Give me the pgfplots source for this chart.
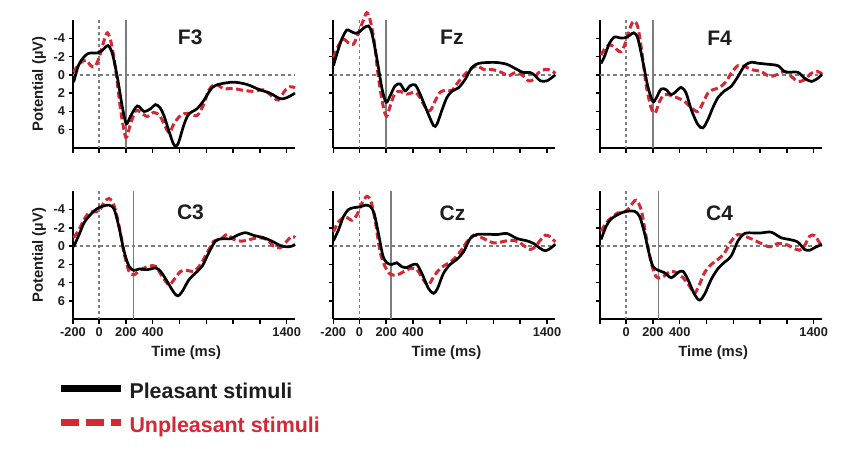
\documentclass[border=0pt]{standalone}
\usepackage{pgfplots}
\pgfplotsset{compat=1.18}
\usepackage{fontspec}
\setmainfont{Liberation Sans}
\definecolor{myred}{RGB}{214,39,52}
\definecolor{refgray}{RGB}{125,125,125}
\definecolor{txtblack}{RGB}{30,30,30}

\pgfplotsset{
  erp/.style={
    scale only axis, width=222pt, height=128pt,
    xmin=-195, xmax=1462, ymin=-6, ymax=8, y dir=reverse,
    axis x line*=bottom, axis y line*=left,
    axis line style={-, line width=2.3pt, black},
    xtick={-195,0,200,400,600,800,1000,1200,1400},
    ytick={-4,-2,0,2,4,6},
    tick align=outside, major tick length=4.5pt,
    tick style={line width=1.5pt, black},
    clip=false,
    ticklabel style={font=\fontsize{12.8}{14}\selectfont\bfseries, text=txtblack},
    /pgf/number format/assume math mode=true,
    xticklabels={}, yticklabels={},
    label style={font=\fontsize{14.8}{16}\selectfont\bfseries, text=txtblack},
    xlabel style={at={(axis description cs:0.51,-0.262)}, anchor=center},
    ylabel style={at={(axis description cs:-0.153,0.5)}, anchor=center},
  },
  leftcol/.style={yticklabels={-4,-2,0,2,4,6}, ylabel={Potential (µV)}},
  botrow/.style={xticklabels={-200,0,200,400,,,,,1400}, xlabel={Time (ms)}},
  pl/.style={black, line width=2.7pt, smooth},
  un/.style={myred, line width=3pt, smooth, dash pattern=on 7pt off 3.5pt},
  legline/.style={legend image code/.code={\draw[#1] (0pt,5pt) -- (60pt,5pt);}},
}
\newcommand{\reflines}[1]{%
  \draw[refgray, line width=1.4pt, dash pattern=on 3.5pt off 3pt] (axis cs:-195,0) -- (axis cs:1462,0);
  \draw[refgray, line width=1.4pt, dash pattern=on 3pt off 3pt] (axis cs:0,-6) -- (axis cs:0,8);
  \draw[refgray, line width=1.5pt] (axis cs:#1,-6) -- (axis cs:#1,8);}
\newcommand{\ttl}[3]{\node[font=\fontsize{21}{24}\selectfont\bfseries, text=txtblack] at (axis cs:#1,#2) {#3};}

\begin{document}
\begin{tikzpicture}[x=1pt,y=1pt]
\path (0,0) rectangle (850,459);

% ---------- F3 ----------
\begin{axis}[erp, leftcol, at={(73pt,311pt)}, anchor=south west]
\reflines{200}
\addplot[un] coordinates {(-190,-0.3)(-149,-1.2)(-99,-1.6)(-62,-1.0)(-32,-0.9)(0,-1.9)(37,-3.75)(62,-4.6)(92,-3.4)(124,-0.5)(161,3.9)(191,6.45)(206,6.8)(235,5.35)(273,3.9)(310,4.1)(359,4.55)(409,4.1)(458,4.6)(520,6.3)(558,5.35)(607,4.45)(657,4.2)(731,4.45)(781,3.2)(818,1.7)(867,1.0)(929,1.5)(1004,1.5)(1078,1.7)(1152,1.8)(1227,1.65)(1301,2.45)(1338,2.75)(1388,1.7)(1425,1.3)(1462,1.4)};
\addplot[pl] coordinates {(-190,0.8)(-149,-1.2)(-87,-2.3)(-12,-2.4)(25,-2.7)(67,-3.2)(99,-2.3)(136,0.25)(173,3.5)(203,5.35)(235,4.5)(285,3.4)(335,4.0)(385,3.7)(421,3.25)(455,3.6)(485,4.5)(520,6.1)(560,7.7)(590,7.5)(632,5.5)(669,4.3)(731,3.7)(781,2.8)(843,1.4)(904,1.0)(1004,0.8)(1103,1.05)(1202,1.65)(1276,2.0)(1350,2.6)(1400,2.5)(1462,2.0)};
\ttl{680}{-4.1}{F3}
\end{axis}

% ---------- Fz ----------
\begin{axis}[erp, at={(333.3pt,311pt)}, anchor=south west]
\reflines{200}
\addplot[un] coordinates {(-194,-1.9)(-157,-3.2)(-120,-3.9)(-82,-3.5)(-45,-3.35)(-7,-4.6)(30,-6.0)(55,-6.8)(80,-6.0)(110,-3.7)(142,0.3)(179,3.55)(204,4.5)(234,3.2)(266,2.0)(304,1.8)(354,2.1)(416,1.9)(453,2.5)(490,3.5)(528,3.9)(565,2.85)(603,1.9)(640,1.7)(690,1.7)(727,1.0)(777,0.1)(827,-0.6)(876,-1.0)(926,-0.6)(1001,-0.55)(1063,-0.25)(1113,0.1)(1163,-0.25)(1213,0)(1262,0.65)(1300,0.5)(1337,-0.25)(1387,-0.6)(1437,-0.45)(1462,-0.15)};
\addplot[pl] coordinates {(-194,-1.0)(-169,-2.25)(-132,-3.9)(-95,-4.9)(-70,-4.8)(-32,-4.55)(0,-4.7)(30,-5.1)(67,-5.35)(92,-4.6)(129,-1.9)(167,1.4)(199,3.0)(229,2.3)(266,1.2)(304,1.0)(341,1.75)(378,1.2)(416,1.1)(453,2.1)(503,3.9)(553,5.55)(578,5.4)(615,3.9)(652,2.5)(690,1.8)(740,1.4)(789,0.5)(839,-0.8)(889,-1.25)(951,-1.35)(1026,-1.35)(1101,-1.15)(1175,-0.6)(1225,-0.25)(1275,-0.25)(1312,0.1)(1350,0.65)(1400,0.65)(1462,0)};
\ttl{690}{-4.1}{Fz}
\end{axis}

% ---------- F4 ----------
\begin{axis}[erp, at={(600pt,311pt)}, anchor=south west]
\reflines{200}
\addplot[un] coordinates {(-187,-2.17)(-149,-3.08)(-112,-3.26)(-75,-2.83)(-37,-2.54)(0,-3.7)(32,-5.25)(57,-5.87)(87,-5.25)(117,-2.54)(149,1.09)(187,3.62)(217,4.17)(249,2.9)(286,2.17)(336,2.25)(386,2.54)(436,2.9)(486,3.62)(535,3.99)(573,3.08)(610,2.0)(647,1.63)(697,1.38)(747,0.72)(784,-0.18)(834,-1.0)(884,-0.9)(946,-0.54)(1008,-0.36)(1071,0.18)(1121,0)(1183,-0.36)(1233,0.18)(1282,0.72)(1332,0.54)(1382,-0.18)(1432,-0.36)(1462,-0.07)};
\addplot[pl] coordinates {(-187,-1.25)(-162,-2.0)(-125,-3.45)(-87,-4.15)(-50,-4.05)(-12,-4.05)(25,-4.3)(57,-4.6)(87,-4.0)(125,-1.45)(162,1.27)(199,2.9)(224,2.55)(261,1.55)(299,1.63)(336,2.17)(374,1.8)(411,1.37)(448,2.0)(486,3.8)(535,5.43)(573,5.8)(610,4.9)(647,3.6)(685,2.5)(735,1.74)(784,1.27)(834,0.2)(884,-1.0)(934,-1.38)(984,-1.27)(1058,-1.16)(1133,-1.0)(1183,-0.36)(1233,-0.29)(1282,-0.29)(1332,0.36)(1382,0.72)(1432,0.36)(1462,-0.07)};
\ttl{697}{-4.0}{F4}
\end{axis}

% ---------- C3 ----------
\begin{axis}[erp, leftcol, botrow, at={(73pt,139.7pt)}, anchor=south west,
  legend style={at={(axis description cs:-0.072,-0.505)}, anchor=north west,
    draw=none, fill=none, inner sep=0pt, outer sep=0pt, row sep=15pt,
    nodes={inner sep=0pt, text height=15pt, text depth=4pt},
    font=\fontsize{21.4}{22}\selectfont\bfseries,
    /tikz/every odd column/.append style={column sep=5pt}},
  legend cell align=left]
\reflines{255}
\addplot[un, forget plot] coordinates {(-190,-0.92)(-149,-1.84)(-112,-2.94)(-74,-3.68)(-37,-3.75)(0,-3.86)(37,-4.78)(74,-5.22)(112,-4.41)(149,-2.2)(186,0.74)(223,2.76)(260,3.13)(310,2.57)(372,2.2)(422,2.2)(471,3.31)(521,4.23)(558,3.68)(608,2.76)(657,2.65)(707,2.76)(756,2.02)(806,0.74)(856,-0.55)(905,-0.74)(955,-1.29)(1004,-0.74)(1066,-0.55)(1128,-0.74)(1190,-0.92)(1252,-0.74)(1302,0)(1352,0.18)(1401,-0.55)(1438,-1.1)(1462,-0.92)};
\addplot[pl, forget plot] coordinates {(-190,0.07)(-149,-1.29)(-112,-2.57)(-74,-3.3)(-37,-3.86)(0,-4.23)(37,-4.41)(74,-4.49)(112,-4.04)(149,-2.02)(186,0.55)(223,2.2)(260,2.65)(298,2.5)(360,2.57)(422,2.39)(459,2.76)(508,3.86)(558,5.07)(588,5.44)(620,4.96)(670,3.68)(719,2.94)(769,2.2)(818,0.74)(868,-0.55)(918,-0.81)(980,-0.81)(1029,-1.18)(1091,-1.47)(1153,-1.18)(1228,-0.92)(1290,-0.55)(1352,-0.07)(1401,0.07)(1438,0)(1462,-0.2)};
\ttl{682}{-3.7}{C3}
\addlegendimage{black, line width=7.5pt, legline}
\addlegendentry{\textcolor{txtblack}{Pleasant stimuli}}
\addlegendimage{myred, line width=7.5pt, dash pattern=on 18pt off 7pt, legline}
\addlegendentry{\textcolor{myred}{Unpleasant stimuli}}
\end{axis}

% ---------- Cz ----------
\begin{axis}[erp, botrow, at={(333.3pt,139.7pt)}, anchor=south west]
\reflines{235}
\addplot[un] coordinates {(-194,-1.56)(-157,-2.65)(-107,-3.2)(-57,-2.84)(-20,-3.38)(17,-4.65)(55,-5.45)(85,-4.95)(117,-2.84)(154,0.62)(192,2.25)(229,3.05)(279,3.16)(329,2.8)(378,2.44)(428,2.55)(478,3.7)(515,4.25)(553,3.35)(603,2.44)(652,1.96)(702,1.45)(752,0.62)(802,-0.47)(852,-1.2)(901,-1.02)(951,-0.65)(1001,-0.36)(1063,-0.47)(1126,-0.65)(1188,-0.47)(1238,0.07)(1275,0.36)(1312,0.07)(1350,-0.65)(1387,-1.2)(1424,-1.02)(1462,-0.47)};
\addplot[pl] coordinates {(-194,-0.58)(-157,-1.75)(-120,-3.2)(-82,-4.0)(-45,-4.2)(5,-4.3)(42,-4.47)(80,-4.36)(110,-3.56)(142,-1.38)(174,0.98)(204,1.82)(242,2.0)(279,1.82)(316,2.25)(354,2.33)(391,2.07)(428,2.0)(466,2.98)(515,4.62)(553,5.16)(583,4.62)(627,2.98)(677,2.0)(727,1.45)(777,0.62)(827,-0.84)(876,-1.27)(951,-1.31)(1026,-1.27)(1101,-1.38)(1175,-0.84)(1250,-0.58)(1300,-0.29)(1350,0.25)(1387,0.51)(1424,0.25)(1462,-0.22)};
\ttl{695}{-3.6}{Cz}
\end{axis}

% ---------- C4 ----------
\begin{axis}[erp, botrow, xticklabels={,0,200,400,,,,,1400}, at={(600pt,139.7pt)}, anchor=south west]
\reflines{243}
\addplot[un] coordinates {(-187,-1.64)(-149,-2.55)(-112,-3.09)(-62,-3.64)(-25,-3.64)(12,-4.0)(50,-4.73)(75,-5.02)(112,-4.0)(149,-1.09)(187,1.82)(224,3.35)(261,3.45)(299,3.09)(336,2.73)(386,2.98)(436,3.64)(473,4.36)(510,5.16)(548,4.18)(585,2.9)(635,2.0)(685,1.45)(735,0.73)(784,-0.55)(834,-1.27)(884,-1.09)(946,-0.73)(1008,-0.29)(1071,0.07)(1133,-0.29)(1195,-0.18)(1245,0.18)(1295,0.44)(1332,-0.07)(1370,-1.09)(1407,-1.16)(1444,-0.36)(1462,0)};
\addplot[pl] coordinates {(-187,-0.73)(-149,-2.18)(-112,-2.98)(-62,-3.45)(-25,-3.7)(12,-3.82)(62,-3.82)(100,-3.27)(137,-1.45)(167,0.55)(199,2.18)(237,2.62)(286,2.9)(336,3.45)(386,2.9)(423,2.73)(461,3.64)(510,5.27)(548,5.9)(585,5.27)(635,3.64)(685,2.47)(735,1.75)(784,1.09)(834,-0.55)(884,-1.38)(946,-1.45)(1008,-1.45)(1083,-1.53)(1158,-0.91)(1220,-0.73)(1282,-0.44)(1332,0.36)(1370,0.44)(1419,0.07)(1462,-0.18)};
\ttl{697}{-3.64}{C4}
\end{axis}
\end{tikzpicture}
\end{document}
